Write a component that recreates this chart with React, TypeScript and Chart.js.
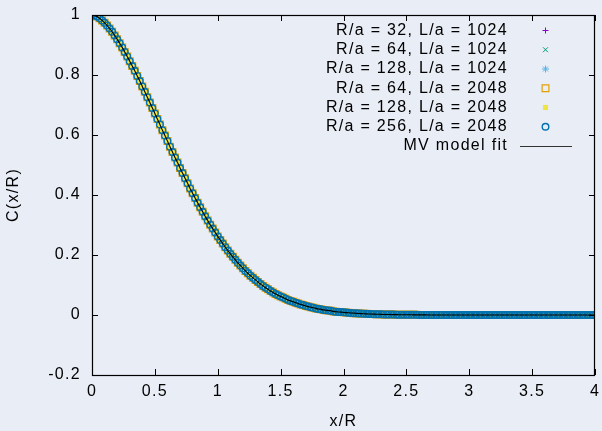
import React, { useEffect, useRef, useState } from 'react';
import { Chart, registerables } from 'chart.js';
import { drawPoint } from 'chart.js/helpers';

Chart.register(...registerables);

// x/R sample positions
const X_GRID = [
  0, 0.02, 0.04, 0.06, 0.08, 0.1, 0.12, 0.14, 0.16, 0.18, 0.2, 0.22, 0.24, 0.26, 0.28, 0.3, 0.32, 0.34, 0.36, 0.38,
  0.4, 0.42, 0.44, 0.46, 0.48, 0.5, 0.52, 0.54, 0.56, 0.58, 0.6, 0.62, 0.64, 0.66, 0.68, 0.7, 0.72, 0.74, 0.76, 0.78,
  0.8, 0.82, 0.84, 0.86, 0.88, 0.9, 0.92, 0.94, 0.96, 0.98, 1.0, 1.02, 1.04, 1.06, 1.08, 1.1, 1.12, 1.14, 1.16, 1.18,
  1.2, 1.22, 1.24, 1.26, 1.28, 1.3, 1.32, 1.34, 1.36, 1.38, 1.4, 1.42, 1.44, 1.46, 1.48, 1.5, 1.52, 1.54, 1.56, 1.58,
  1.6, 1.62, 1.64, 1.66, 1.68, 1.7, 1.72, 1.74, 1.76, 1.78, 1.8, 1.82, 1.84, 1.86, 1.88, 1.9, 1.92, 1.94, 1.96, 1.98,
  2.0, 2.02, 2.04, 2.06, 2.08, 2.1, 2.12, 2.14, 2.16, 2.18, 2.2, 2.22, 2.24, 2.26, 2.28, 2.3, 2.32, 2.34, 2.36, 2.38,
  2.4, 2.42, 2.44, 2.46, 2.48, 2.5, 2.52, 2.54, 2.56, 2.58, 2.6, 2.62, 2.64, 2.66, 2.68, 2.7, 2.72, 2.74, 2.76, 2.78,
  2.8, 2.82, 2.84, 2.86, 2.88, 2.9, 2.92, 2.94, 2.96, 2.98, 3.0, 3.02, 3.04, 3.06, 3.08, 3.1, 3.12, 3.14, 3.16, 3.18,
  3.2, 3.22, 3.24, 3.26, 3.28, 3.3, 3.32, 3.34, 3.36, 3.38, 3.4, 3.42, 3.44, 3.46, 3.48, 3.5, 3.52, 3.54, 3.56, 3.58,
  3.6, 3.62, 3.64, 3.66, 3.68, 3.7, 3.72, 3.74, 3.76, 3.78, 3.8, 3.82, 3.84, 3.86, 3.88, 3.9, 3.92, 3.94, 3.96, 3.98,
  4.0,
];

// C(x/R) values (all lattice series coincide with the fit)
const C_VALUES = [
  1.0, 0.998, 0.995, 0.989, 0.982, 0.974, 0.965, 0.955, 0.944, 0.932, 0.919, 0.906, 0.892, 0.877, 0.862, 0.846, 0.830, 0.814, 0.797, 0.780,
  0.762, 0.744, 0.726, 0.708, 0.690, 0.672, 0.653, 0.635, 0.616, 0.598, 0.580, 0.561, 0.543, 0.525, 0.508, 0.490, 0.473, 0.456, 0.439, 0.422,
  0.406, 0.390, 0.374, 0.359, 0.344, 0.329, 0.315, 0.301, 0.288, 0.275, 0.262, 0.250, 0.238, 0.226, 0.215, 0.204, 0.194, 0.184, 0.174, 0.165,
  0.156, 0.147, 0.139, 0.131, 0.124, 0.117, 0.110, 0.103, 0.097, 0.091, 0.086, 0.080, 0.075, 0.070, 0.066, 0.062, 0.058, 0.054, 0.050, 0.047,
  0.044, 0.041, 0.038, 0.035, 0.033, 0.030, 0.028, 0.026, 0.024, 0.022, 0.020, 0.019, 0.017, 0.016, 0.015, 0.014, 0.012, 0.011, 0.010, 0.0096,
  0.0088, 0.008, 0.0073, 0.0067, 0.0061, 0.0056, 0.0051, 0.0046, 0.0042, 0.0038, 0.0035, 0.0032, 0.0029, 0.0026, 0.0024, 0.0021, 0.0019, 0.0018, 0.0016, 0.0014,
  0.0013, 0.0012, 0.001, 0.0009, 0.0008, 0.0008, 0.0007, 0.0006, 0.0005, 0.0005, 0.0004, 0.0004, 0.0003, 0.0003, 0.0002, 0.0002, 0.0002, 0.0001, 0.0001, 0.0001,
  0, 0, 0, 0, 0, 0, 0, 0, 0, 0, 0, 0, 0, 0, 0, 0, 0, 0, 0, 0,
  0, 0, 0, 0, 0, 0, 0, 0, 0, 0, 0, 0, 0, 0, 0, 0, 0, 0, 0, 0,
  0, 0, 0, 0, 0, 0, 0, 0, 0, 0, 0, 0, 0, 0, 0, 0, 0, 0, 0, 0,
  0,
];

const SERIES_LABELS = [
  'R/a = 32, L/a = 1024',
  'R/a = 64, L/a = 1024',
  'R/a = 128, L/a = 1024',
  'R/a = 64, L/a = 2048',
  'R/a = 128, L/a = 2048',
  'R/a = 256, L/a = 2048',
];
const FIT_LABEL = 'MV model fit';

const X_TICKS = [0, 0.5, 1, 1.5, 2, 2.5, 3, 3.5, 4];
const X_TICK_LABELS = ['0', '0.5', '1', '1.5', '2', '2.5', '3', '3.5', '4'];
const Y_TICKS = [-0.2, 0, 0.2, 0.4, 0.6, 0.8, 1];
const Y_TICK_LABELS = ['-0.2', '0', '0.2', '0.4', '0.6', '0.8', '1'];

const X_TITLE = 'x/R';
const Y_TITLE = 'C(x/R)';

const SERIES_STYLES = [
  { pointStyle: 'cross', color: '#9400d3', radius: 3, fill: false, width: 1 },
  { pointStyle: 'crossRot', color: '#009e73', radius: 3.5, fill: false, width: 1 },
  { pointStyle: 'star', color: '#56b4e9', radius: 3.5, fill: false, width: 1 },
  { pointStyle: 'rect', color: '#e69f00', radius: 4.8, fill: false, width: 1.2 },
  { pointStyle: 'rect', color: '#f0e442', radius: 3.6, fill: true, width: 0 },
  { pointStyle: 'circle', color: '#0072b2', radius: 3.3, fill: false, width: 1.4 },
];

const FONT_FAMILY = '"Liberation Sans", Arial, sans-serif';
const LETTER_SPACING = '1.3px';
const BG = '#e9edf5';
const TICK_LEN = 6;

type FrameGeom = { L: number; R: number; T: number; B: number; xt: number[]; yt: number[] };

function frameFromScales(chart: any): FrameGeom {
  const xs = chart.scales.x;
  const ys = chart.scales.y;
  return {
    L: Math.round(xs.getPixelForValue(X_TICKS[0])),
    R: Math.round(xs.getPixelForValue(X_TICKS[X_TICKS.length - 1])),
    T: Math.round(ys.getPixelForValue(Y_TICKS[Y_TICKS.length - 1])),
    B: Math.round(ys.getPixelForValue(Y_TICKS[0])),
    xt: X_TICKS.map((v) => Math.round(xs.getPixelForValue(v))),
    yt: Y_TICKS.map((v) => Math.round(ys.getPixelForValue(v))),
  };
}

function drawLegend(chart: any) {
  const { ctx } = chart;
  ctx.save();
  ctx.letterSpacing = LETTER_SPACING;
  ctx.font = `16px ${FONT_FAMILY}`;
  ctx.textAlign = 'right';
  ctx.textBaseline = 'middle';
  const textRight = 508;
  const markX = 545.5;
  const rowY = (i: number) => 30.5 + i * 19.25;
  SERIES_LABELS.forEach((label, i) => {
    const y = rowY(i);
    ctx.fillStyle = '#000';
    ctx.fillText(label, textRight, y);
    const s = SERIES_STYLES[i];
    ctx.save();
    ctx.strokeStyle = s.color;
    ctx.fillStyle = s.fill ? s.color : 'rgba(0,0,0,0)';
    ctx.lineWidth = s.width || 1;
    drawPoint(ctx, { pointStyle: s.pointStyle, radius: s.radius, rotation: 0, borderWidth: s.width } as any, markX, y);
    ctx.restore();
  });
  const fy = rowY(6);
  ctx.fillStyle = '#000';
  ctx.fillText(FIT_LABEL, textRight, fy);
  ctx.strokeStyle = '#333';
  ctx.lineWidth = 1;
  ctx.beginPath();
  ctx.moveTo(520, Math.round(fy) + 0.5);
  ctx.lineTo(572, Math.round(fy) + 0.5);
  ctx.stroke();
  ctx.restore();
}

const gnuplotPlugin = {
  id: 'gnuLegend',
  beforeDraw(chart: any) {
    chart.ctx.letterSpacing = LETTER_SPACING;
  },
  afterDraw(chart: any) {
    drawLegend(chart);
  },
};

function FrameOverlay({ g }: { g: FrameGeom }) {
  const { L, R, T, B, xt, yt } = g;
  const segs: string[] = [];
  xt.forEach((px) => {
    segs.push(`M${px + 0.5},${B} V${B - TICK_LEN}`);
    segs.push(`M${px + 0.5},${T} V${T + TICK_LEN}`);
  });
  yt.forEach((py) => {
    segs.push(`M${L},${py + 0.5} H${L + TICK_LEN}`);
    segs.push(`M${R},${py + 0.5} H${R - TICK_LEN}`);
  });
  return (
    <svg
      width={602}
      height={431}
      style={{ position: 'absolute', left: 0, top: 0, pointerEvents: 'none' }}
    >
      <rect x={L + 0.5} y={T + 0.5} width={R - L - 1} height={B - T} fill="none" stroke="#000" strokeWidth={1.2} />
      <path d={segs.join(' ')} stroke="#000" strokeWidth={1} fill="none" />
    </svg>
  );
}

function App() {
  const ref = useRef<HTMLCanvasElement | null>(null);
  const [geom, setGeom] = useState<FrameGeom | null>(null);

  useEffect(() => {
    const canvas = ref.current;
    if (!canvas) return;
    const points = X_GRID.map((x, i) => ({ x, y: C_VALUES[i] }));
    const seriesSets = SERIES_LABELS.map((label, i) => {
      const s = SERIES_STYLES[i];
      return {
        label,
        data: points,
        showLine: false,
        pointStyle: s.pointStyle,
        pointRadius: s.radius,
        pointBorderWidth: s.width,
        pointBorderColor: s.color,
        pointBackgroundColor: s.fill ? s.color : 'rgba(0,0,0,0)',
        borderColor: s.color,
        backgroundColor: s.color,
        order: SERIES_LABELS.length - i,
      };
    });
    const fitSet = {
      label: FIT_LABEL,
      data: points,
      showLine: true,
      borderColor: '#000',
      borderWidth: 1.1,
      pointRadius: 0,
      cubicInterpolationMode: 'monotone',
      fill: false,
      order: 0,
    };

    const xTickCb = (v: any) => {
      const idx = X_TICKS.findIndex((t) => Math.abs(t - v) < 1e-9);
      return idx >= 0 ? X_TICK_LABELS[idx] : '';
    };
    const yTickCb = (v: any) => {
      const idx = Y_TICKS.findIndex((t) => Math.abs(t - v) < 1e-9);
      return idx >= 0 ? Y_TICK_LABELS[idx] : '';
    };

    const chart = new Chart(canvas, {
      type: 'scatter',
      data: { datasets: [...seriesSets, fitSet] as any },
      plugins: [gnuplotPlugin],
      options: {
        animation: false,
        responsive: false,
        devicePixelRatio: 1,
        events: [],
        layout: { padding: { top: 15, right: 7, left: 0, bottom: 0 } },
        plugins: {
          legend: { display: false },
          tooltip: { enabled: false },
        },
        scales: {
          x: {
            type: 'linear',
            position: 'bottom',
            min: 0,
            max: 4,
            afterBuildTicks: (s: any) => {
              s.ticks = X_TICKS.map((v) => ({ value: v }));
            },
            afterFit: (s: any) => {
              s.height = 56;
              s.paddingLeft = 0;
              s.paddingRight = 0;
            },
            grid: { display: false, drawTicks: false },
            border: { display: false },
            ticks: {
              autoSkip: false,
              maxRotation: 0,
              padding: 7,
              color: '#000',
              font: { family: FONT_FAMILY, size: 16 },
              callback: xTickCb,
            },
            title: {
              display: true,
              text: X_TITLE,
              color: '#000',
              font: { family: FONT_FAMILY, size: 16 },
              padding: { top: 0, bottom: 0 },
            },
          },
          y: {
            type: 'linear',
            position: 'left',
            min: -0.2,
            max: 1,
            afterBuildTicks: (s: any) => {
              s.ticks = Y_TICKS.map((v) => ({ value: v }));
            },
            afterFit: (s: any) => {
              s.width = 92;
              s.paddingTop = 0;
              s.paddingBottom = 0;
            },
            grid: { display: false, drawTicks: false },
            border: { display: false },
            ticks: {
              autoSkip: false,
              padding: 11,
              color: '#000',
              font: { family: FONT_FAMILY, size: 16 },
              callback: yTickCb,
            },
            title: {
              display: true,
              text: Y_TITLE,
              color: '#000',
              font: { family: FONT_FAMILY, size: 16 },
              padding: { top: 4, bottom: 4 },
            },
          },
        },
      } as any,
    });
    setGeom(frameFromScales(chart));
    return () => chart.destroy();
  }, []);

  return (
    <div style={{ position: 'fixed', left: 0, top: 0, width: 602, height: 431, background: BG }}>
      <canvas ref={ref} width={602} height={431} style={{ display: 'block', width: 602, height: 431 }} />
      {geom && <FrameOverlay g={geom} />}
    </div>
  );
}

export default App;
